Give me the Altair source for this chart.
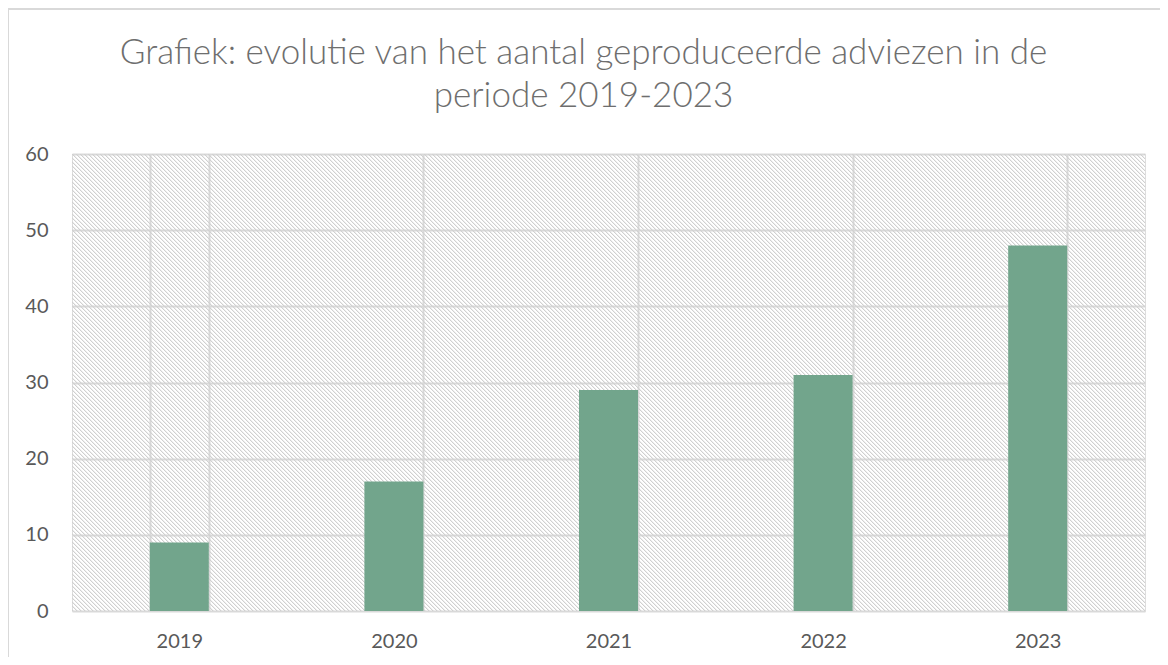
import altair as alt
import pandas as pd

years = ["2019", "2020", "2021", "2022", "2023"]
adviezen = [9, 17, 29, 31, 48]
y_ticks = [0, 10, 20, 30, 40, 50, 60]
title_lines = ["Grafiek: evolutie van het aantal geproduceerde adviezen in de", "periode 2019-2023"]

W, H = 1073, 457
df = pd.DataFrame({"jaar": years, "aantal": adviezen})

# diagonal hatch pattern for the plot background, built as a striped gradient
# s = x - y + H runs from 0 to W + H across the plot; one hatch line every 4 px of s
span = W + H
t = span / (W * W + H * H)
gx, gy = W * t, H * t
profile = [(0, 0.0), (1, 1.0), (2, 0.35), (3, 0.0)]
stops = []
k = 0
while 4 * k <= span:
    for ds, a in profile:
        s = 4 * k + ds
        if s <= span:
            stops.append({"offset": s / span, "color": f"rgba(208,208,208,{a})"})
    k += 1
hatch_fill = alt.LinearGradient(
    gradient="linear", x1=0, y1=1, x2=gx, y2=1 - gy, stops=stops
)

one = alt.Data(values=[{}])

hatch = alt.Chart(one).mark_rect(fill=hatch_fill, strokeWidth=0).encode(
    x=alt.value(0), x2=alt.value(W), y=alt.value(0), y2=alt.value(H)
)

border = alt.Chart(one).mark_rect(
    fill="transparent", stroke="#d9d9d9", strokeWidth=2
).encode(x=alt.value(-64), x2=alt.value(1200), y=alt.value(-145), y2=alt.value(700))

bars = alt.Chart(df).mark_bar(color="#72A58C").encode(
    x=alt.X(
        "jaar:N",
        sort=years,
        title=None,
        scale=alt.Scale(paddingInner=0.725, paddingOuter=0.3625),
        axis=alt.Axis(
            tickBand="extent",
            grid=True,
            gridColor="#d9d9d9",
            gridWidth=2,
            ticks=False,
            domain=False,
            labelAngle=0,
            labelFont="Lato",
            labelFontSize=20,
            labelColor="#595959",
            labelPadding=20,
        ),
    ),
    y=alt.Y(
        "aantal:Q",
        title=None,
        scale=alt.Scale(domain=[0, 60], nice=False),
        axis=alt.Axis(
            values=y_ticks,
            grid=True,
            gridColor="#d9d9d9",
            gridWidth=2,
            ticks=False,
            domain=False,
            labelFont="Lato",
            labelFontSize=20,
            labelColor="#595959",
            labelPadding=24,
        ),
    ),
)

chart = (
    alt.layer(hatch, bars, border)
    .properties(
        width=W,
        height=H,
        autosize=alt.AutoSizeParams(type="none"),
        padding={"left": 64, "top": 146, "right": 15, "bottom": 46},
        title=alt.TitleParams(
            text=title_lines,
            font="Lato",
            fontSize=35,
            fontWeight=300,
            color="#6e6e6e",
            anchor="middle",
            dx=-25,
            offset=-106,
            lineHeight=43,
        ),
    )
    .configure_view(stroke=None, fill="white")
    .configure(background="white")
)

chart.save("out.html", embed_options={"renderer": "svg", "actions": False})
